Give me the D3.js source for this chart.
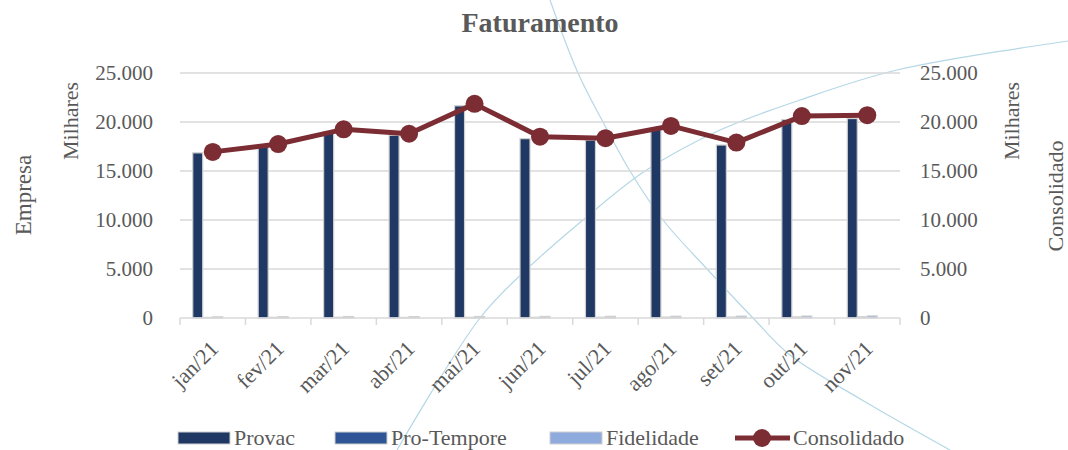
<!DOCTYPE html>
<html>
<head>
<meta charset="utf-8">
<script src="https://cdn.jsdelivr.net/npm/d3@7"></script>
<style>
  body { margin: 0; background: #fff; }
  svg text { font-family: "Liberation Serif", "DejaVu Serif", serif; fill: #595959; }
</style>
</head>
<body>
<svg id="chart"></svg>
<script>
const width = 1068;
const height = 450;

// dados (milhares)
const months = ["jan/21", "fev/21", "mar/21", "abr/21", "mai/21", "jun/21", "jul/21", "ago/21", "set/21", "out/21", "nov/21"];
const provac = [16850, 17500, 19000, 18650, 21650, 18300, 18150, 19250, 17650, 20250, 20350];
const proTempore = [60, 70, 80, 60, 70, 70, 80, 90, 100, 110, 120];
const fidelidade = [120, 130, 150, 140, 150, 160, 170, 180, 190, 200, 210];
const consolidado = [16950, 17750, 19250, 18800, 21850, 18500, 18350, 19600, 17900, 20600, 20700];
const yTicks = [0, 5000, 10000, 15000, 20000, 25000];

const barSeries = [
    { name: "Provac", values: provac, color: "#203864" },
    { name: "Pro-Tempore", values: proTempore, color: "#2f5597" },
    { name: "Fidelidade", values: fidelidade, color: "#8faadc" }
];

const svg = d3.select("#chart").attr("width", width).attr("height", height);

const plotLeft = 180, plotRight = 900, plotTop = 73, plotBottom = 318;

const x = d3.scaleBand().domain(months).range([plotLeft, plotRight]).paddingInner(0).paddingOuter(0);
const xSub = d3.scaleBand().domain(barSeries.map(s => s.name)).range([-20, 10]);
const y = d3.scaleLinear().domain([0, 25000]).range([plotBottom, plotTop]);
const y2 = d3.scaleLinear().domain([0, 25000]).range([plotBottom, plotTop]);

const ptBR = d3.formatLocale({ decimal: ",", thousands: ".", grouping: [3], currency: ["R$", ""] });
const fmt = ptBR.format(",.0f");

// linhas decorativas do fundo
const deco = svg.append("g").attr("class", "deco");
const decoLine = d3.line().curve(d3.curveCatmullRom);
deco.append("path")
    .attr("d", decoLine([[550, 0], [578, 73], [603, 122], [630, 171], [663, 220], [707, 269], [753, 318], [790, 355], [862, 400], [950, 450]]))
    .attr("fill", "none").attr("stroke", "#b5d7e6").attr("stroke-width", 1.2);
deco.append("path")
    .attr("d", decoLine([[397, 450], [480, 318], [527, 269], [583, 220], [645, 171], [720, 130], [800, 100], [897, 70], [1068, 41]]))
    .attr("fill", "none").attr("stroke", "#b5d7e6").attr("stroke-width", 1.2);

// grade
svg.append("g")
    .selectAll("line")
    .data(yTicks.filter(d => d > 0))
    .enter().append("line")
    .attr("x1", plotLeft).attr("x2", plotRight)
    .attr("y1", d => y(d)).attr("y2", d => y(d))
    .attr("stroke", "#d9d9d9").attr("stroke-width", 1.5);

// eixo y esquerdo
const yAxisL = svg.append("g")
    .attr("transform", `translate(${plotLeft},0)`)
    .call(d3.axisLeft(y).tickValues(yTicks).tickSize(0).tickPadding(27).tickFormat(fmt));
yAxisL.select(".domain").remove();
yAxisL.selectAll("text").style("font-size", "21px").attr("fill", "#595959");

// eixo y direito
const yAxisR = svg.append("g")
    .attr("transform", `translate(${plotRight},0)`)
    .call(d3.axisRight(y2).tickValues(yTicks).tickSize(0).tickPadding(20).tickFormat(fmt));
yAxisR.select(".domain").remove();
yAxisR.selectAll("text").style("font-size", "21px").attr("fill", "#595959");

// barras
barSeries.forEach(s => {
    svg.append("g")
        .selectAll("rect")
        .data(s.values.map((v, i) => ({ m: months[i], v })))
        .enter().append("rect")
        .attr("x", d => x(d.m) + x.bandwidth() / 2 + xSub(s.name))
        .attr("width", xSub.bandwidth())
        .attr("y", d => y(d.v))
        .attr("height", d => y(0) - y(d.v))
        .attr("fill", s.color)
        .attr("stroke", "#d0d0d0")
        .attr("stroke-width", 1.2);
});

// eixo x
svg.append("line")
    .attr("x1", plotLeft).attr("x2", plotRight)
    .attr("y1", plotBottom).attr("y2", plotBottom)
    .attr("stroke", "#d9d9d9").attr("stroke-width", 1.5);
svg.append("g")
    .selectAll("line")
    .data(d3.range(months.length + 1))
    .enter().append("line")
    .attr("x1", i => plotLeft + i * x.step()).attr("x2", i => plotLeft + i * x.step())
    .attr("y1", plotBottom).attr("y2", plotBottom + 7)
    .attr("stroke", "#d9d9d9").attr("stroke-width", 1.5);

svg.append("g")
    .selectAll("text")
    .data(months)
    .enter().append("text")
    .attr("transform", d => `translate(${x(d) + x.bandwidth() / 2 + 7},350) rotate(-45)`)
    .attr("text-anchor", "end")
    .style("font-size", "22px")
    .text(d => d);

// linha consolidado
const cx = (d, i) => x(months[i]) + x.bandwidth() / 2;
svg.append("path")
    .datum(consolidado)
    .attr("d", d3.line().x(cx).y(d => y2(d)))
    .attr("fill", "none")
    .attr("stroke", "#7b2d33")
    .attr("stroke-width", 5)
    .attr("stroke-linejoin", "round");
svg.append("g")
    .selectAll("circle")
    .data(consolidado)
    .enter().append("circle")
    .attr("cx", cx)
    .attr("cy", d => y2(d))
    .attr("r", 9)
    .attr("fill", "#7b2d33");

// títulos
svg.append("text")
    .attr("x", 540).attr("y", 32)
    .attr("text-anchor", "middle")
    .style("font-size", "28px").style("font-weight", "bold")
    .text("Faturamento");

const rotLabel = (tx, ty, size, txt) => svg.append("text")
    .attr("transform", `translate(${tx},${ty}) rotate(-90)`)
    .attr("text-anchor", "middle")
    .style("font-size", size + "px")
    .text(txt);
rotLabel(78, 121, 22, "Milhares");
rotLabel(31, 195, 23, "Empresa");
rotLabel(1019, 121, 22, "Milhares");
rotLabel(1063, 196, 22, "Consolidado");

// legenda
const legend = svg.append("g").attr("class", "legend");
const legendPos = [178, 335, 550, 735];
barSeries.forEach((s, i) => {
    legend.append("rect")
        .attr("x", legendPos[i]).attr("y", 432)
        .attr("width", 52).attr("height", 12)
        .attr("fill", s.color).attr("stroke", "#d0d0d0").attr("stroke-width", 1);
    legend.append("text")
        .attr("x", legendPos[i] + 56).attr("y", 445)
        .style("font-size", "22px")
        .text(s.name);
});
legend.append("line")
    .attr("x1", legendPos[3]).attr("x2", legendPos[3] + 55)
    .attr("y1", 438).attr("y2", 438)
    .attr("stroke", "#7b2d33").attr("stroke-width", 5);
legend.append("circle")
    .attr("cx", legendPos[3] + 27).attr("cy", 438).attr("r", 9)
    .attr("fill", "#7b2d33");
legend.append("text")
    .attr("x", legendPos[3] + 58).attr("y", 445)
    .style("font-size", "22px")
    .text("Consolidado");
</script>
</body>
</html>
